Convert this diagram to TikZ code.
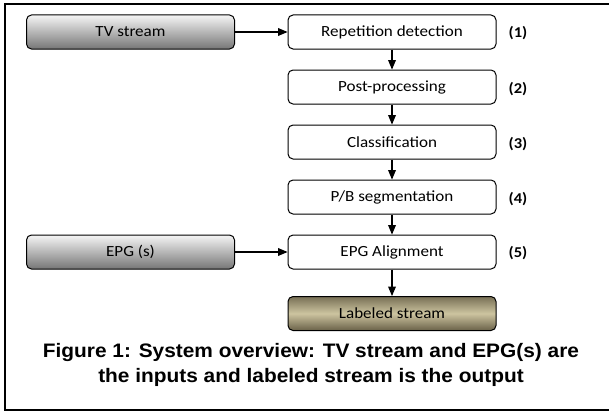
\documentclass[tikz,border=0pt]{standalone}
\usepackage{fontspec}
\setmainfont[FakeStretch=1.1]{Carlito}
\newfontfamily\capfont[FakeStretch=1.07]{Liberation Sans}
\usepackage{tikz}
\usetikzlibrary{arrows,shapes,positioning}
\usepackage{xcolor}
\definecolor{tvgraytop}{RGB}{245,245,245}
\definecolor{tvgraybot}{RGB}{118,118,118}
\definecolor{olivetop}{RGB}{120,112,85}
\definecolor{olivemid}{RGB}{205,196,160}
\definecolor{olivebot}{RGB}{105,97,72}
\tikzstyle{stage} = [rectangle, rounded corners=5pt, minimum width=208pt, minimum height=34pt, text centered, draw=black, line width=1pt, fill=white, font=\fontsize{15.5}{17}\selectfont]
\tikzstyle{source} = [stage, top color=tvgraytop, bottom color=tvgraybot]
\tikzstyle{result} = [stage, top color=olivetop, bottom color=olivebot, middle color=olivemid]
\tikzstyle{tag} = [font=\fontsize{15}{17}\selectfont\bfseries]
\tikzstyle{arrow} = [line width=1.2pt,-triangle 45]

\begin{document}
\begin{tikzpicture}[x=1pt,y=-1pt]
\useasboundingbox (0,0) rectangle (609,412);
\draw[line width=1.6pt] (609,4) -- (5,4) -- (5,410) -- (609,410);
\node[source] (tv) at (130.5,32) {TV stream};
\node[source] (epg) at (130.5,252) {EPG (s)};
\node[stage] (rep) at (392,32) {Repetition detection};
\node[stage] (post) at (392,87) {Post-processing};
\node[stage] (cls) at (392,142) {Classification};
\node[stage] (seg) at (392,197) {P/B segmentation};
\node[stage] (align) at (392,252) {EPG Alignment};
\node[result] (out) at (392,313.5) {Labeled stream};
\node[tag] (t1) at (518,33) {(1)};
\node[tag] (t2) at (518,89) {(2)};
\node[tag] (t3) at (518,144) {(3)};
\node[tag] (t4) at (518,199) {(4)};
\node[tag] (t5) at (518,253) {(5)};
\draw[arrow] (tv) -- (rep);
\draw[arrow] (epg) -- (align);
\draw[arrow] (rep) -- (post);
\draw[arrow] (post) -- (cls);
\draw[arrow] (cls) -- (seg);
\draw[arrow] (seg) -- (align);
\draw[arrow] (align) -- (out);
\node[font=\capfont\bfseries\fontsize{19.5}{25}\selectfont, align=center] (caption) at (311,364.5) {Figure 1: System overview: TV stream and EPG(s) are\\the inputs and labeled stream is the output};
\end{tikzpicture}
\end{document}
